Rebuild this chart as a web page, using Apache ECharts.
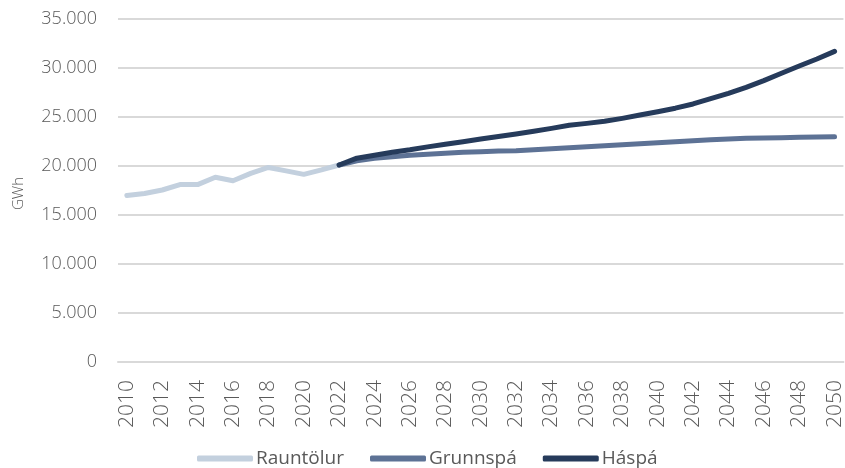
<!DOCTYPE html>
<html>
<head>
<meta charset="utf-8">
<script src="https://cdn.jsdelivr.net/npm/echarts@6/dist/echarts.min.js"></script>
<style>html,body{margin:0;padding:0;background:#fff}#c{width:845px;height:468px}</style>
</head>
<body>
<div id="c"></div>
<script>
var years = [];
for (var y = 2010; y <= 2050; y++) years.push(String(y));

var rauntolur = [17000, 17200, 17550, 18100, 18100, 18850, 18500, 19250, 19850, 19500, 19150, 19600, 20100];
var grunnspa = [20100, 20540, 20780, 20950, 21090, 21190, 21290, 21400, 21460, 21530,
  21560, 21670, 21770, 21870, 21970, 22070, 22170, 22280, 22380, 22480,
  22580, 22690, 22760, 22830, 22860, 22890, 22930, 22960, 22990];
var haspa = [20100, 20800, 21100, 21400, 21650, 21950, 22220, 22480, 22750, 23000,
  23270, 23540, 23840, 24150, 24350, 24560, 24860, 25200, 25540, 25900,
  26330, 26870, 27420, 28030, 28710, 29460, 30200, 30920, 31700];

var yTicks = [0, 5000, 10000, 15000, 20000, 25000, 30000, 35000];

function pad(arr, start) {
  var out = [];
  for (var i = 0; i < start; i++) out.push(null);
  return out.concat(arr);
}

var font = "'Open Sans', 'Noto Sans', sans-serif";
var chart = echarts.init(document.getElementById('c'), null, {renderer: 'canvas'});
chart.setOption({
  animation: false,
  textStyle: {fontFamily: font},
  grid: {left: 118, top: 19, width: 731, bottom: 106, containLabel: false},
  legend: {
    left: 192, top: 444,
    icon: 'roundRect',
    itemWidth: 56, itemHeight: 6, itemGap: 26,
    textStyle: {fontFamily: font, fontSize: 19, color: '#595959', padding: [0, 0, 0, -2]},
    data: ['Rauntölur', 'Grunnspá', 'Háspá']
  },
  xAxis: {
    type: 'category',
    data: years,
    boundaryGap: true,
    axisLine: {lineStyle: {color: '#d9d9d9', width: 2}},
    axisTick: {show: false},
    axisLabel: {
      interval: 1, rotate: 90, fontSize: 21, fontWeight: 300, color: '#595959', fontFamily: font, margin: 18
    }
  },
  yAxis: {
    type: 'value',
    min: 0, max: 35000, interval: 5000,
    name: 'GWh',
    nameLocation: 'middle',
    nameGap: 92,
    nameTextStyle: {fontSize: 15, fontWeight: 300, color: '#595959', fontFamily: font, padding: [0, 0, 0, -6]},
    axisLine: {show: false},
    axisTick: {show: false},
    splitLine: {lineStyle: {color: '#d9d9d9', width: 2}},
    axisLabel: {
      fontSize: 18, fontWeight: 300, color: '#595959', fontFamily: font, margin: 21,
      formatter: function (v) { return String(v).replace(/\B(?=(\d{3})+(?!\d))/g, '.'); }
    }
  },
  series: [
    {name: 'Rauntölur', type: 'line', data: rauntolur, symbol: 'none',
     lineStyle: {color: '#c3d0de', width: 5, cap: 'round', join: 'round'}, itemStyle: {color: '#c3d0de'}},
    {name: 'Grunnspá', type: 'line', data: pad(grunnspa, 12), symbol: 'none',
     lineStyle: {color: '#5d7295', width: 5, cap: 'round', join: 'round'}, itemStyle: {color: '#5d7295'}},
    {name: 'Háspá', type: 'line', data: pad(haspa, 12), symbol: 'none',
     lineStyle: {color: '#263b5b', width: 5, cap: 'round', join: 'round'}, itemStyle: {color: '#263b5b'}}
  ]
});
</script>
</body>
</html>
